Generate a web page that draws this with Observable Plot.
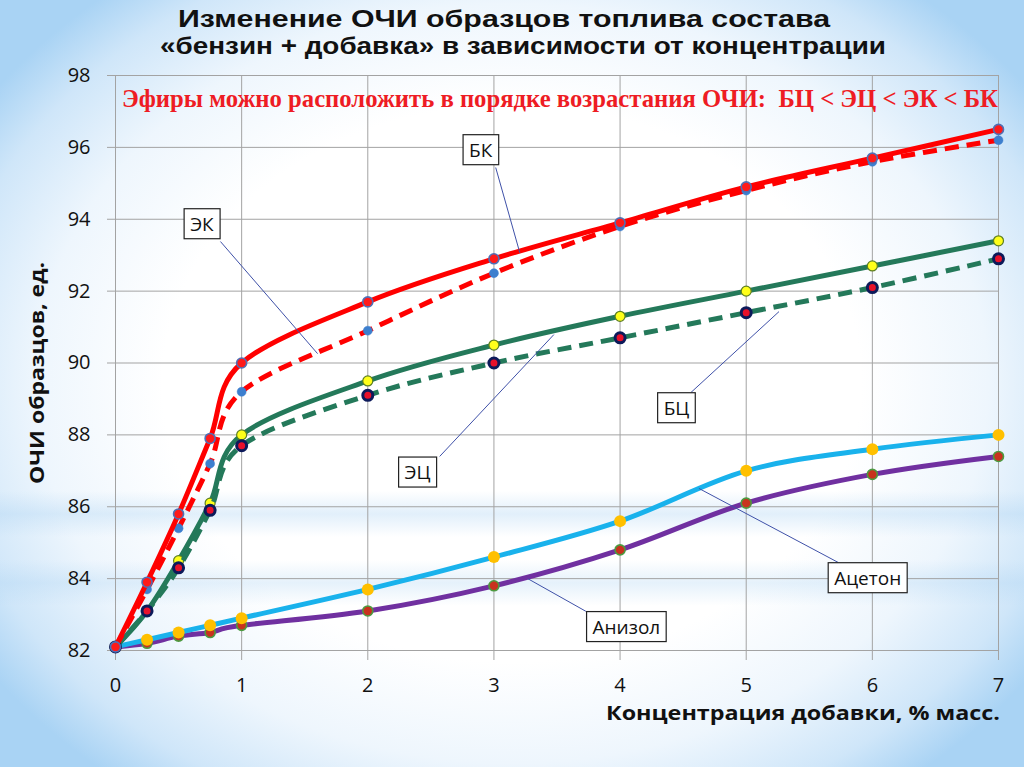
<!DOCTYPE html>
<html>
<head>
<meta charset="utf-8">
<script src="https://cdn.jsdelivr.net/npm/d3@7"></script>
<script src="https://cdn.jsdelivr.net/npm/@observablehq/plot@0.6"></script>
<style>
html, body { margin: 0; padding: 0; }
body {
  width: 1024px; height: 767px; overflow: hidden; position: relative;
  background:
    linear-gradient(180deg, rgba(255,255,255,0) 64%, rgba(170,210,242,0.35) 67%, rgba(255,255,255,0) 70%, rgba(255,255,255,0) 73%, rgba(170,210,242,0.30) 76%, rgba(255,255,255,0) 79%),
    radial-gradient(ellipse 62% 66% at 50% 50%, #ffffff 0%, #ffffff 55%, #eef6fd 75%, #cfe6f9 90%, #a9d3f4 100%),
    #a9d3f4;
}
#chart { position: absolute; left: 0; top: 0; }
#overlay { position: absolute; left: 0; top: 0; pointer-events: none; }
</style>
</head>
<body>
<div id="chart"></div>
<svg id="overlay" width="1024" height="767" xmlns="http://www.w3.org/2000/svg">
  <text x="178" y="27" textLength="652" lengthAdjust="spacingAndGlyphs" font-family="Liberation Sans" font-weight="bold" font-size="24" fill="#111">Изменение ОЧИ образцов топлива состава</text>
  <text x="160" y="54" textLength="726" lengthAdjust="spacingAndGlyphs" font-family="Liberation Sans" font-weight="bold" font-size="24" fill="#111">«бензин + добавка» в зависимости от концентрации</text>
  <text x="122" y="107" textLength="876" lengthAdjust="spacingAndGlyphs" font-family="Liberation Serif" font-weight="bold" font-size="25" fill="#ee1c24" style="white-space:pre">Эфиры можно расположить в порядке возрастания ОЧИ:  БЦ &lt; ЭЦ &lt; ЭК &lt; БК</text>
  <text transform="translate(44,484) rotate(-90)" x="0" y="0" textLength="222" lengthAdjust="spacingAndGlyphs" font-family="Open Sans" font-weight="bold" font-size="20" fill="#111">ОЧИ образцов, ед.</text>
  <text x="606" y="720" textLength="394" lengthAdjust="spacingAndGlyphs" font-family="Open Sans" font-weight="bold" font-size="20" fill="#111">Концентрация добавки, % масс.</text>
</svg>
<script>
// ---- data ----
const concentration = [0, 0.25, 0.5, 0.75, 1, 2, 3, 4, 5, 6, 7];
const seriesNames = ["Анизол", "Ацетон", "ЭЦ", "БЦ", "ЭК", "БК"];
const anisole = [82.1, 82.2, 82.4, 82.5, 82.7, 83.1, 83.8, 84.8, 86.1, 86.9, 87.4];
const acetone = [82.1, 82.3, 82.5, 82.7, 82.9, 83.7, 84.6, 85.6, 87.0, 87.6, 88.0];
const ec      = [82.1, 83.1, 84.5, 86.1, 88.0, 89.5, 90.5, 91.3, 92.0, 92.7, 93.4];
const bc      = [82.1, 83.1, 84.3, 85.9, 87.7, 89.1, 90.0, 90.7, 91.4, 92.1, 92.9];
const ek      = [82.1, 83.7, 85.4, 87.2, 89.2, 90.9, 92.5, 93.8, 94.8, 95.6, 96.2];
const bk      = [82.1, 83.9, 85.8, 87.9, 90.0, 91.7, 92.9, 93.9, 94.9, 95.7, 96.5];
const seriesValues = [anisole, acetone, ec, bc, ek, bk];

const xTicks = [0, 1, 2, 3, 4, 5, 6, 7];
const yTicks = [82, 84, 86, 88, 90, 92, 94, 96, 98];

// callout labels (data coordinates)
const annLabels = ["БК", "ЭК", "ЭЦ", "БЦ", "Анизол", "Ацетон"];
const annX  = [2.895, 0.685, 2.395, 4.447, 4.05, 5.963];
const annY  = [95.91, 93.85, 86.94, 88.73, 82.64, 84.0];
const annX1 = [3.014, 0.832, 2.570, 4.562, 3.729, 5.729];
const annY1 = [95.44, 93.38, 87.40, 89.18, 83.09, 84.45];
const annX2 = [3.205, 1.602, 3.475, 5.260, 3.268, 4.625];
const annY2 = [93.07, 90.26, 90.79, 91.43, 84.00, 86.51];

// ---- styles ----
const styles = {
  "Анизол": {line: "#7030a0", dash: null, fill: "#c8321e", stroke: "#4c9a40", sw: 1.6, r: 5},
  "Ацетон": {line: "#19b2ec", dash: null, fill: "#ffc000", stroke: "none", sw: 0, r: 6},
  "ЭЦ":     {line: "#24795a", dash: null, fill: "#ffff1a", stroke: "#5d7f22", sw: 1.2, r: 5},
  "БЦ":     {line: "#24795a", dash: "14,8", fill: "#e8102a", stroke: "#0c1a5a", sw: 3, r: 5},
  "ЭК":     {line: "#ff0000", dash: "14,8", fill: "#3d7fce", stroke: "#3d7fce", sw: 0.5, r: 4.5},
  "БК":     {line: "#ff0000", dash: null, fill: "#ff1a1a", stroke: "#4f6fb5", sw: 1.6, r: 5}
};

const annotations = annLabels.map((t, i) => ({
  text: t, x: annX[i], y: annY[i], x1: annX1[i], y1: annY1[i], x2: annX2[i], y2: annY2[i]
}));

const seriesMarks = [];
seriesNames.forEach((name, i) => {
  const rows = concentration.map((c, j) => ({x: c, y: seriesValues[i][j]}));
  const s = styles[name];
  seriesMarks.push(Plot.line(rows, {
    x: "x", y: "y", curve: "cardinal", stroke: s.line, strokeWidth: 5,
    strokeDasharray: s.dash, strokeLinejoin: "round", strokeLinecap: s.dash ? "butt" : "round"
  }));
  seriesMarks.push(Plot.dot(rows, {
    x: "x", y: "y", r: s.r, fill: s.fill, stroke: s.stroke, strokeWidth: s.sw
  }));
});

const gridColor = "#a3a3a3";
const intFormat = d3.format("d");

const plot = Plot.plot({
  width: 1024,
  height: 767,
  marginLeft: 115,
  marginRight: 26,
  marginTop: 75,
  marginBottom: 117,
  style: {background: "transparent", fontFamily: "Open Sans", color: "#111", overflow: "visible"},
  x: {domain: [0, 7]},
  y: {domain: [82, 98]},
  marks: [
    Plot.gridX(xTicks, {stroke: gridColor, strokeOpacity: 1, strokeWidth: 1}),
    Plot.gridY(yTicks, {stroke: gridColor, strokeOpacity: 1, strokeWidth: 1}),
    Plot.axisX(xTicks, {tickSize: 10, tickPadding: 17, fontSize: 20, stroke: gridColor, strokeOpacity: 1, label: null, tickFormat: intFormat}),
    Plot.axisY(yTicks, {tickSize: 8, tickPadding: 17, fontSize: 20, stroke: gridColor, strokeOpacity: 1, label: null, tickFormat: intFormat}),
    ...seriesMarks,
    Plot.link(annotations, {x1: "x1", y1: "y1", x2: "x2", y2: "y2", stroke: "#3f51a8", strokeWidth: 1}),
    Plot.text(annotations, {x: "x", y: "y", text: "text", fontSize: 19, fill: "#111"})
  ]
});

document.getElementById("chart").append(plot);

// draw boxes behind callout labels
Array.from(plot.querySelectorAll("text"))
  .filter(t => annLabels.includes(t.textContent.trim()))
  .forEach(t => {
    const b = t.getBBox();
    const r = document.createElementNS("http://www.w3.org/2000/svg", "rect");
    r.setAttribute("x", b.x - 6);
    r.setAttribute("y", b.y - 2);
    r.setAttribute("width", b.width + 12);
    r.setAttribute("height", b.height + 4);
    r.setAttribute("fill", "#ffffff");
    r.setAttribute("stroke", "#222");
    r.setAttribute("stroke-width", "1.2");
    const tr = t.getAttribute("transform");
    if (tr) r.setAttribute("transform", tr);
    t.parentNode.insertBefore(r, t);
  });
</script>
</body>
</html>
